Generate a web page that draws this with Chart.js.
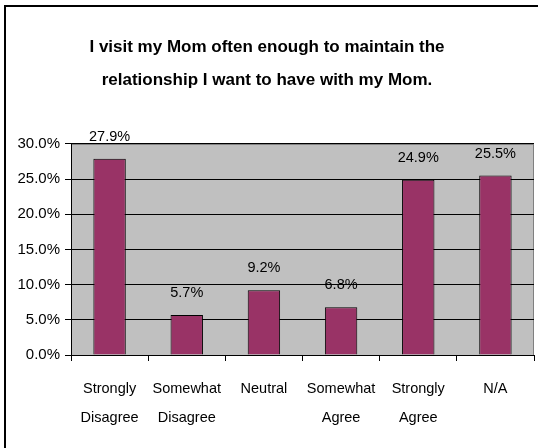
<!DOCTYPE html>
<html>
<head>
<meta charset="utf-8">
<script src="https://cdn.jsdelivr.net/npm/chart.js@4"></script>
<style>
  html, body { margin: 0; padding: 0; background: #fff; overflow: hidden; }
  #frame { position: absolute; left: 4px; top: 5px; width: 600px; height: 500px;
           border-left: 2px solid #000; border-top: 2px solid #000; }
  #wrap { position: absolute; left: 0; top: 0; width: 538px; height: 448px; }
</style>
</head>
<body>
<div id="frame"></div>
<div id="wrap"><canvas id="momChart" width="538" height="448"></canvas></div>
<script>
// Survey answers
const categories = [['Strongly', 'Disagree'], ['Somewhat', 'Disagree'], 'Neutral', ['Somewhat', 'Agree'], ['Strongly', 'Agree'], 'N/A'];
const percents = [27.9, 5.7, 9.2, 6.8, 24.9, 25.5];
const yTicks = [0, 5, 10, 15, 20, 25, 30];

const fontFam = "'Liberation Sans', Arial, sans-serif";

// grey plot background
const plotBg = {
  id: 'plotBg',
  beforeDraw(chart) {
    const a = chart.chartArea, c = chart.ctx;
    c.save();
    c.fillStyle = '#c0c0c0';
    c.fillRect(a.left, a.top, a.right - a.left, a.bottom - a.top);
    c.strokeStyle = '#808080';
    c.lineWidth = 1;
    c.strokeRect(a.left + 0.5, a.top + 0.5, a.right - a.left - 1, a.bottom - a.top);
    c.restore();
  }
};

// value labels over each bar
const valueLabels = {
  id: 'valueLabels',
  afterDatasetsDraw(chart) {
    const c = chart.ctx;
    const meta = chart.getDatasetMeta(0);
    c.save();
    c.font = '14.5px ' + fontFam;
    c.fillStyle = '#000';
    c.textAlign = 'center';
    c.textBaseline = 'middle';
    meta.data.forEach((bar, i) => {
      c.fillText(percents[i].toFixed(1) + '%', bar.x, bar.y - 22);
    });
    c.restore();
  }
};

new Chart(document.getElementById('momChart').getContext('2d'), {
  type: 'bar',
  data: {
    labels: categories,
    datasets: [{
      data: percents,
      backgroundColor: '#993366',
      borderColor: '#000',
      borderWidth: 1,
      barPercentage: 0.42,
      categoryPercentage: 1
    }]
  },
  options: {
    responsive: false,
    animation: false,
    layout: { padding: { left: 0, right: 4, top: 0, bottom: 0 } },
    plugins: {
      legend: { display: false },
      tooltip: { enabled: false },
      title: {
        display: true,
        text: ['I visit my Mom often enough to maintain the', 'relationship I want to have with my Mom.'],
        color: '#000',
        font: { family: fontFam, size: 17, weight: 'bold', lineHeight: 1.94 },
        padding: { top: 31, bottom: 47 }
      }
    },
    scales: {
      x: {
        afterFit(s) { s.height = 93; },
        border: { color: '#000', width: 1 },
        grid: { offset: true, drawOnChartArea: false, color: '#000', tickLength: 6 },
        ticks: {
          color: '#000',
          font: { family: fontFam, size: 14.5, lineHeight: 2.0 },
          padding: 13,
          maxRotation: 0,
          autoSkip: false
        }
      },
      y: {
        min: 0,
        max: 30,
        afterFit(s) { s.width = 71; },
        afterBuildTicks(s) { s.ticks = yTicks.map(v => ({ value: v })); },
        border: { color: '#000', width: 1 },
        grid: { color: '#000', tickLength: 6 },
        ticks: {
          color: '#000',
          font: { family: fontFam, size: 15 },
          padding: 5,
          callback: v => v.toFixed(1) + '%'
        }
      }
    }
  },
  plugins: [plotBg, valueLabels]
});
</script>
</body>
</html>
